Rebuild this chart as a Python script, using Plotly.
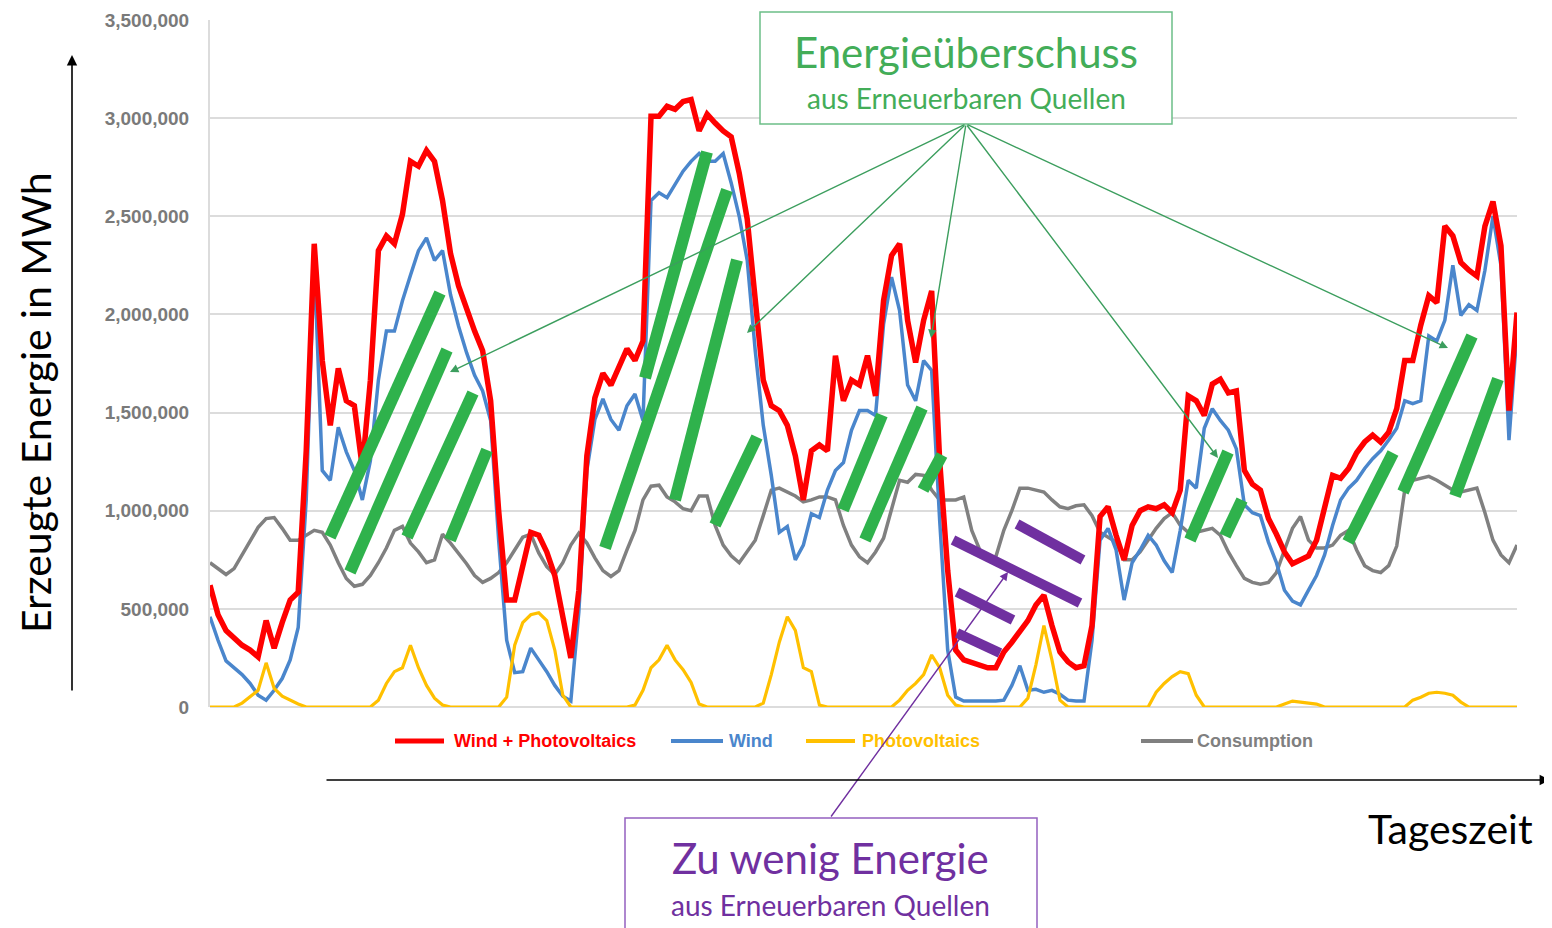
import plotly.graph_objects as go

# ---------------- data (MWh) ----------------
hours = list(range(164))

wind_pv = [620000, 470000, 390000, 355000, 315000, 290000, 255000, 440000, 300000, 430000,
           545000, 585000, 1305000, 2360000, 1765000, 1435000, 1725000, 1560000, 1535000, 1220000,
           1665000, 2325000, 2400000, 2360000, 2510000, 2780000, 2755000, 2835000, 2780000, 2580000,
           2310000, 2145000, 2020000, 1915000, 1815000, 1560000, 1000000, 545000, 545000, 720000,
           890000, 875000, 790000, 670000, 470000, 250000, 595000, 1280000, 1575000, 1700000,
           1640000, 1725000, 1825000, 1765000, 1865000, 3010000, 3010000, 3060000, 3045000, 3085000,
           3095000, 2935000, 3020000, 2975000, 2935000, 2905000, 2720000, 2485000, 2070000, 1665000,
           1535000, 1510000, 1435000, 1280000, 1055000, 1305000, 1335000, 1305000, 1790000, 1560000,
           1665000, 1640000, 1790000, 1585000, 2070000, 2300000, 2360000, 1970000, 1755000, 1970000,
           2120000, 1255000, 695000, 290000, 240000, 225000, 215000, 200000, 200000, 280000,
           330000, 380000, 440000, 520000, 570000, 415000, 280000, 230000, 200000, 210000,
           415000, 970000, 1020000, 875000, 750000, 925000, 1000000, 1020000, 1010000, 1030000,
           990000, 1105000, 1585000, 1560000, 1485000, 1645000, 1670000, 1600000, 1610000, 1205000,
           1135000, 1105000, 960000, 880000, 790000, 730000, 750000, 770000, 850000, 1025000,
           1180000, 1165000, 1215000, 1295000, 1350000, 1385000, 1350000, 1400000, 1520000, 1765000,
           1765000, 1945000, 2095000, 2060000, 2450000, 2400000, 2265000, 2225000, 2195000, 2450000,
           2575000, 2350000, 1510000, 2010000]

wind = [460000, 340000, 235000, 200000, 165000, 120000, 60000, 35000, 85000, 145000,
        240000, 405000, 1055000, 2275000, 1205000, 1155000, 1425000, 1300000, 1205000, 1055000,
        1255000, 1665000, 1915000, 1915000, 2070000, 2200000, 2325000, 2390000, 2275000, 2325000,
        2100000, 1940000, 1805000, 1690000, 1610000, 1460000, 850000, 340000, 175000, 180000,
        300000, 240000, 180000, 110000, 55000, 30000, 485000, 1205000, 1465000, 1570000,
        1465000, 1410000, 1535000, 1595000, 1460000, 2580000, 2620000, 2595000, 2660000, 2730000,
        2780000, 2820000, 2780000, 2780000, 2820000, 2670000, 2500000, 2275000, 1815000, 1435000,
        1180000, 890000, 920000, 750000, 825000, 985000, 965000, 1105000, 1205000, 1245000,
        1410000, 1510000, 1510000, 1485000, 1950000, 2190000, 2020000, 1640000, 1560000, 1765000,
        1715000, 950000, 290000, 50000, 30000, 30000, 30000, 30000, 30000, 35000,
        110000, 210000, 85000, 90000, 75000, 85000, 65000, 35000, 30000, 30000,
        340000, 850000, 910000, 800000, 545000, 735000, 800000, 875000, 825000, 745000,
        685000, 900000, 1155000, 1115000, 1420000, 1520000, 1460000, 1410000, 1315000, 1030000,
        990000, 975000, 840000, 735000, 595000, 540000, 520000, 595000, 670000, 775000,
        925000, 1055000, 1115000, 1155000, 1215000, 1265000, 1305000, 1360000, 1420000, 1560000,
        1545000, 1560000, 1890000, 1865000, 1970000, 2250000, 1995000, 2050000, 2020000, 2225000,
        2500000, 2250000, 1360000, 1915000]

photovoltaics = [0, 0, 0, 0, 20000, 50000, 85000, 225000, 95000, 55000,
                 35000, 15000, 0, 0, 0, 0, 0, 0, 0, 0,
                 0, 35000, 120000, 180000, 200000, 315000, 200000, 110000, 45000, 10000,
                 0, 0, 0, 0, 0, 0, 0, 50000, 315000, 430000,
                 470000, 480000, 440000, 290000, 60000, 0, 0, 0, 0, 0,
                 0, 0, 0, 10000, 85000, 200000, 240000, 315000, 240000, 190000,
                 125000, 15000, 0, 0, 0, 0, 0, 0, 0, 20000,
                 165000, 330000, 460000, 390000, 200000, 180000, 10000, 0, 0, 0,
                 0, 0, 0, 0, 0, 0, 35000, 85000, 120000, 165000,
                 265000, 200000, 60000, 10000, 0, 0, 0, 0, 0, 0,
                 0, 0, 45000, 215000, 415000, 240000, 35000, 0, 0, 0,
                 0, 0, 0, 0, 0, 0, 0, 0, 75000, 120000,
                 155000, 180000, 170000, 60000, 0, 0, 0, 0, 0, 0,
                 0, 0, 0, 0, 15000, 30000, 25000, 20000, 15000, 0,
                 0, 0, 0, 0, 0, 0, 0, 0, 0, 0,
                 35000, 50000, 70000, 75000, 70000, 60000, 25000, 0, 0, 0,
                 0, 0, 0, 0]

consumption = [735000, 705000, 675000, 705000, 775000, 850000, 915000, 960000, 965000, 910000,
               850000, 850000, 875000, 900000, 890000, 825000, 735000, 655000, 615000, 625000,
               670000, 735000, 810000, 900000, 920000, 835000, 790000, 735000, 750000, 880000,
               835000, 785000, 730000, 670000, 635000, 655000, 685000, 735000, 800000, 865000,
               880000, 785000, 715000, 675000, 735000, 825000, 885000, 835000, 760000, 695000,
               665000, 695000, 800000, 900000, 1055000, 1125000, 1130000, 1070000, 1045000, 1010000,
               1000000, 1075000, 1075000, 925000, 825000, 770000, 735000, 790000, 850000, 975000,
               1105000, 1115000, 1095000, 1075000, 1045000, 1055000, 1070000, 1070000, 1055000, 925000,
               825000, 765000, 735000, 790000, 860000, 1000000, 1155000, 1145000, 1185000, 1180000,
               1105000, 1055000, 1055000, 1055000, 1070000, 900000, 800000, 750000, 765000, 900000,
               1000000, 1115000, 1115000, 1105000, 1095000, 1055000, 1020000, 1010000, 1025000, 1030000,
               975000, 890000, 865000, 840000, 750000, 750000, 790000, 850000, 910000, 960000,
               990000, 925000, 890000, 890000, 900000, 910000, 875000, 790000, 720000, 655000,
               635000, 625000, 635000, 685000, 800000, 910000, 970000, 850000, 810000, 810000,
               825000, 875000, 900000, 800000, 720000, 695000, 685000, 720000, 820000, 1105000,
               1155000, 1165000, 1175000, 1155000, 1130000, 1105000, 1095000, 1105000, 1115000, 990000,
               850000, 775000, 735000, 825000]

y_ticks = [0, 500000, 1000000, 1500000, 2000000, 2500000, 3000000, 3500000]

series_names = ["Wind + Photovoltaics", "Wind", "Photovoltaics", "Consumption"]
series_colors = ["#ff0000", "#4a86cc", "#ffc000", "#808080"]

# ---------------- layout helpers (screen pixel -> paper) ----------------
OFF = 8                      # default page margin of the html body
W, H = 1552 - OFF, 928 - OFF
L, R, T, B = 210, 1517, 20, 707   # plot area in screen pixels


def px(x):
    return (x - L) / (R - L)


def py(y):
    return (B - y) / (B - T)


fig = go.Figure()
fig.add_trace(go.Scatter(x=hours, y=consumption, mode="lines", name=series_names[3],
                         line=dict(color=series_colors[3], width=3.5)))
fig.add_trace(go.Scatter(x=hours, y=wind, mode="lines", name=series_names[1],
                         line=dict(color=series_colors[1], width=3.5)))
fig.add_trace(go.Scatter(x=hours, y=wind_pv, mode="lines", name=series_names[0],
                         line=dict(color=series_colors[0], width=5.5)))
fig.add_trace(go.Scatter(x=hours, y=photovoltaics, mode="lines", name=series_names[2],
                         line=dict(color=series_colors[2], width=3.2)))

shapes = []
annotations = []

GREEN_BAR = "#2fb24c"
PURPLE = "#7030a0"
GREEN_TXT = "#43ad58"
GREEN_LINE = "#3c9e5e"

green_bars = [
    ((330, 537), (440, 293)), ((350, 572), (447, 350)), ((407, 537), (473, 393)), ((450, 540), (487, 450)),
    ((645, 378), (707, 152)), ((605, 548), (727, 190)), ((675, 500), (737, 260)), ((715, 525), (757, 437)),
    ((843, 510), (882, 415)), ((865, 540), (922, 408)), ((923, 490), (942, 455)),
    ((1190, 540), (1228, 452)), ((1225, 536), (1242, 500)),
    ((1348, 542), (1393, 453)), ((1403, 492), (1472, 336)), ((1455, 496), (1498, 379)),
]
for (a, b) in green_bars:
    shapes.append(dict(type="line", xref="paper", yref="paper", x0=px(a[0]), y0=py(a[1]),
                       x1=px(b[0]), y1=py(b[1]), line=dict(color=GREEN_BAR, width=12), layer="above"))

purple_bars = [((953, 540), (1080, 603)), ((1017, 524), (1083, 560)),
               ((957, 592), (1013, 620)), ((957, 633), (1000, 653))]
for (a, b) in purple_bars:
    shapes.append(dict(type="line", xref="paper", yref="paper", x0=px(a[0]), y0=py(a[1]),
                       x1=px(b[0]), y1=py(b[1]), line=dict(color=PURPLE, width=10), layer="above"))

# boxes
shapes.append(dict(type="rect", xref="paper", yref="paper", x0=px(760), y0=py(12), x1=px(1172), y1=py(124),
                   fillcolor="white", line=dict(color="#6cbf88", width=1.5), layer="above"))
shapes.append(dict(type="rect", xref="paper", yref="paper", x0=px(625), y0=py(818), x1=px(1037), y1=py(945),
                   fillcolor="white", line=dict(color="#9460c0", width=1.5), layer="above"))

# legend (manual)
legend_items = [(395, 444, 452), (671, 723, 727), (806, 855, 860), (1141, 1193, 1195)]
for i, (x0, x1, xt) in enumerate(legend_items):
    shapes.append(dict(type="line", xref="paper", yref="paper", x0=px(x0), x1=px(x1), y0=py(741), y1=py(741),
                       line=dict(color=series_colors[i], width=4 if i else 5)))
    annotations.append(dict(xref="paper", yref="paper", x=px(xt), y=py(741), xanchor="left", yanchor="middle",
                            text=series_names[i], showarrow=False,
                            font=dict(family="Liberation Sans", size=18,
                                      color=series_colors[i], weight="bold")))

# green pointer arrows
ox, oy = 966, 124
for tx, ty in [(450, 372), (747, 333), (931, 338), (1218, 458), (1448, 348)]:
    annotations.append(dict(xref="paper", yref="paper", x=px(tx), y=py(ty), ax=ox - tx, ay=oy - ty,
                            text="", showarrow=True, arrowhead=2, arrowsize=1.2, arrowwidth=1.4,
                            arrowcolor=GREEN_LINE))
# purple pointer arrow
annotations.append(dict(xref="paper", yref="paper", x=px(1008), y=py(572), ax=830 - 1008, ay=818 - 572,
                        text="", showarrow=True, arrowhead=2, arrowsize=1.2, arrowwidth=1.4,
                        arrowcolor=PURPLE))

# axis arrows (black)
annotations.append(dict(xref="paper", yref="paper", x=px(72), y=py(55), ax=0, ay=692 - 55,
                        text="", showarrow=True, arrowhead=2, arrowsize=1.3, arrowwidth=1.6,
                        arrowcolor="black"))
annotations.append(dict(xref="paper", yref="paper", x=px(1550), y=py(780), ax=325 - 1550, ay=0,
                        text="", showarrow=True, arrowhead=2, arrowsize=1.3, arrowwidth=1.6,
                        arrowcolor="black"))

# texts
annotations += [
    dict(xref="paper", yref="paper", x=px(966), y=py(52), text="Energieüberschuss", showarrow=False,
         xanchor="center", yanchor="middle", font=dict(family="Lato", size=42, color=GREEN_TXT)),
    dict(xref="paper", yref="paper", x=px(966), y=py(98), text="aus Erneuerbaren Quellen", showarrow=False,
         xanchor="center", yanchor="middle", font=dict(family="Lato", size=28, color=GREEN_TXT)),
    dict(xref="paper", yref="paper", x=px(830), y=py(858), text="Zu wenig Energie", showarrow=False,
         xanchor="center", yanchor="middle", font=dict(family="Lato", size=42, color=PURPLE)),
    dict(xref="paper", yref="paper", x=px(830), y=py(905), text="aus Erneuerbaren Quellen", showarrow=False,
         xanchor="center", yanchor="middle", font=dict(family="Lato", size=28, color=PURPLE)),
    dict(xref="paper", yref="paper", x=px(35), y=py(402), text="Erzeugte Energie in MWh", showarrow=False,
         textangle=-90, xanchor="center", yanchor="middle", font=dict(family="Lato", size=41, color="black")),
    dict(xref="paper", yref="paper", x=px(1450), y=py(828), text="Tageszeit", showarrow=False,
         xanchor="center", yanchor="middle", font=dict(family="Lato", size=41, color="black")),
]

fig.update_layout(
    width=W, height=H,
    margin=dict(l=L - OFF, r=W - (R - OFF), t=T - OFF, b=H - (B - OFF), autoexpand=False),
    paper_bgcolor="white", plot_bgcolor="white",
    showlegend=False,
    shapes=shapes, annotations=annotations,
    xaxis=dict(range=[0, 163], showgrid=False, zeroline=False, showticklabels=False, showline=False,
               ticks="", automargin=False),
    yaxis=dict(range=[0, 3500000], tickvals=y_ticks, tickformat=",d", showgrid=True, gridcolor="#dcdcdc",
               gridwidth=2, zeroline=True, zerolinecolor="#dcdcdc", zerolinewidth=2,
               showline=True, linecolor="#dcdcdc", linewidth=2, ticks="", ticklabelstandoff=15,
               automargin=False,
               tickfont=dict(family="Liberation Sans", size=19, color="#7a7a7a", weight="bold")),
)

fig.write_html("out.html")
